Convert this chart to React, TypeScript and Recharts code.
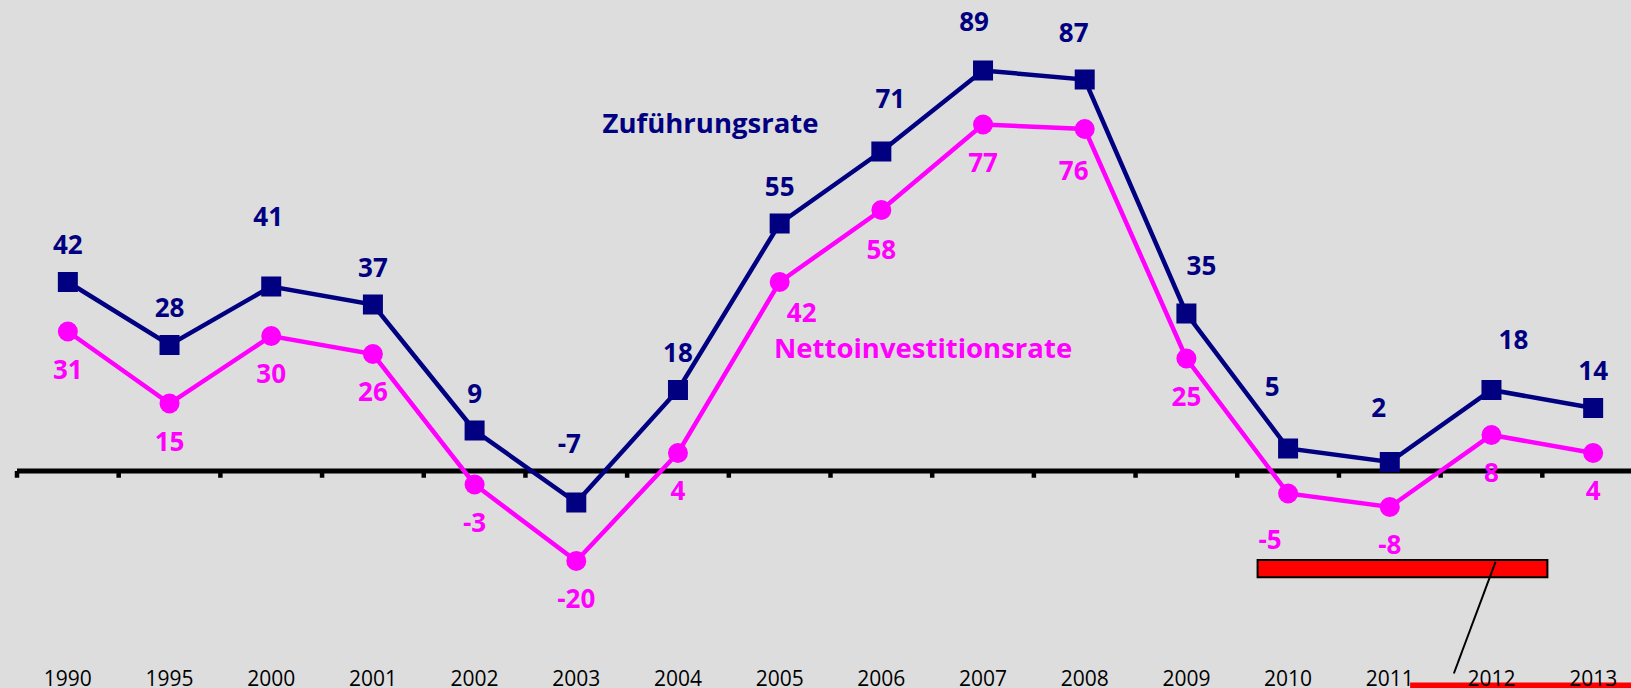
import React from 'react';
import {
  LineChart,
  Line,
  XAxis,
  YAxis,
  ReferenceLine,
  ReferenceArea,
  ReferenceDot,
  LabelList,
} from 'recharts';

const years = ['1990', '1995', '2000', '2001', '2002', '2003', '2004', '2005', '2006', '2007', '2008', '2009', '2010', '2011', '2012', '2013'];
const zufuehrungsrate = [42, 28, 41, 37, 9, -7, 18, 55, 71, 89, 87, 35, 5, 2, 18, 14];
const nettoinvestitionsrate = [31, 15, 30, 26, -3, -20, 4, 42, 58, 77, 76, 25, -5, -8, 8, 4];

const rows = years.map((year, i) => ({
  idx: i,
  year,
  zu: zufuehrungsrate[i],
  netto: nettoinvestitionsrate[i],
}));

const yearTicks = years.map((_, i) => i);
// category boundaries, used for the small tick marks on the zero line
const boundaries = years.map((_, i) => i - 0.5).concat(years.length - 0.5);

const NAVY = '#000080';
const MAGENTA = '#ff00ff';
const FONT = '"Open Sans", "DejaVu Sans", sans-serif';

// the original moves some value labels off their usual spot: [dx, dy] in px
const navyNudge: Record<number, [number, number]> = {
  2: [-3, -33],
  5: [-7, -22],
  8: [9, -16],
  9: [-9, -12],
  10: [-11, -10],
  11: [15, -11],
  12: [-16, -25],
  13: [-11, -17],
  14: [22, -13],
};
const magentaNudge: Record<number, [number, number]> = {
  7: [22, -7],
  8: [0, 2],
  10: [-11, 4],
  12: [-18, 8],
};

const makeLabel = (color: string, above: boolean, nudge: Record<number, [number, number]>) => (props: any) => {
  const { x, y, value, index } = props;
  const [dx, dy] = nudge[index] || [0, 0];
  const baseY = above ? y - 28 : y + 47;
  return (
    <text
      x={x + dx}
      y={baseY + dy}
      textAnchor="middle"
      fill={color}
      fontSize={26}
      fontWeight={700}
      fontFamily={FONT}
    >
      {value}
    </text>
  );
};

const SquareDot = (props: any) => {
  const { cx, cy, index } = props;
  if (cx == null || cy == null) return <g key={`sq-${index}`} />;
  return <rect key={`sq-${index}`} x={cx - 10} y={cy - 10} width={20} height={20} fill={NAVY} />;
};

export default function App() {
  return (
    <div
      style={{
        position: 'absolute',
        left: 0,
        top: 0,
        width: 1631,
        height: 688,
        overflow: 'hidden',
        background: '#dddddd',
      }}
    >
      <LineChart width={1660} height={688} data={rows} margin={{ top: 21, right: 16, bottom: 0, left: 17 }}>
        <XAxis
          dataKey="idx"
          type="number"
          domain={[-0.5, years.length - 0.5]}
          allowDataOverflow
          ticks={yearTicks}
          interval={0}
          tickFormatter={(i: number) => years[i]}
          height={37}
          axisLine={false}
          tickLine={false}
          tickSize={8}
          tickMargin={12}
          tick={{ fill: '#000', fontSize: 21, fontFamily: FONT }}
        />
        <YAxis domain={[-40, 100]} allowDataOverflow hide />

        <ReferenceLine y={0} stroke="#000" strokeWidth={5} />
        {boundaries.map((b) => (
          <ReferenceLine
            key={`tick-${b}`}
            segment={[{ x: b, y: 0 }, { x: b, y: -1.5 }]}
            stroke="#000"
            strokeWidth={4.5}
            ifOverflow="visible"
          />
        ))}

        <ReferenceArea
          x1={11.7}
          x2={14.55}
          y1={-19.8}
          y2={-23.6}
          fill="#ff0000"
          fillOpacity={1}
          stroke="#000"
          strokeWidth={2}
          ifOverflow="visible"
        />
        <ReferenceArea
          x1={13.2}
          x2={15.5}
          y1={-47}
          y2={-50}
          fill="#ff0000"
          fillOpacity={1}
          ifOverflow="visible"
        />
        <ReferenceLine
          segment={[{ x: 14.04, y: -20.2 }, { x: 13.63, y: -45 }]}
          stroke="#000"
          strokeWidth={2}
          ifOverflow="visible"
        />

        <Line
          dataKey="netto"
          stroke={MAGENTA}
          strokeWidth={4.5}
          dot={{ r: 10, fill: MAGENTA, stroke: 'none' }}
          activeDot={false}
          isAnimationActive={false}
        >
          <LabelList dataKey="netto" content={makeLabel(MAGENTA, false, magentaNudge)} />
        </Line>
        <Line
          dataKey="zu"
          stroke={NAVY}
          strokeWidth={4.5}
          dot={(p: any) => <SquareDot key={`sq-${p.index}`} {...p} />}
          activeDot={false}
          isAnimationActive={false}
        >
          <LabelList dataKey="zu" content={makeLabel(NAVY, true, navyNudge)} />
        </Line>

        <ReferenceDot
          x={6.32}
          y={77.2}
          r={0}
          fill="none"
          stroke="none"
          ifOverflow="visible"
          label={{ value: 'Zuführungsrate', position: 'center', fill: NAVY, fontSize: 27.5, fontWeight: 700, fontFamily: FONT }}
        />
        <ReferenceDot
          x={8.41}
          y={27.2}
          r={0}
          fill="none"
          stroke="none"
          ifOverflow="visible"
          label={{ value: 'Nettoinvestitionsrate', position: 'center', fill: MAGENTA, fontSize: 27.5, fontWeight: 700, fontFamily: FONT }}
        />
      </LineChart>
    </div>
  );
}
